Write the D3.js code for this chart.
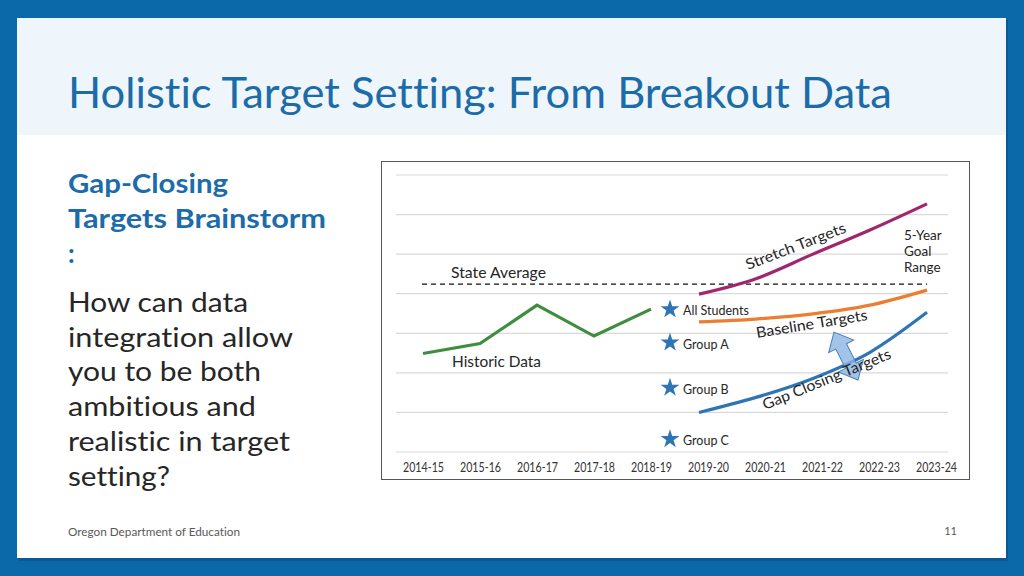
<!DOCTYPE html>
<html><head><meta charset="utf-8">
<script src="https://cdn.jsdelivr.net/npm/d3@7"></script>
<style>html,body{margin:0;padding:0;background:#0B69A9;}svg{display:block;}text{font-family:Lato,"Open Sans",sans-serif;font-variant-ligatures:none;font-feature-settings:"liga" 0;}</style>
</head><body>
<svg id="c" width="1024" height="576"></svg>
<script>
// ---- data ----
const years = ["2014-15","2015-16","2016-17","2017-18","2018-19","2019-20","2020-21","2021-22","2022-23","2023-24"];
const historicYears = ["2014-15","2015-16","2016-17","2017-18","2018-19"];
const historicValues = [2.49, 2.74, 3.71, 2.93, 3.61];
const targetYears = ["2019-20","2020-21","2021-22","2022-23","2023-24"];
const stretchValues = [3.99, 4.38, 5.00, 5.61, 6.27];
const baselineValues = [3.29, 3.36, 3.49, 3.71, 4.09];
const gapClosingValues = [1.00, 1.38, 1.86, 2.52, 3.53];
const stateAverage = 4.24;
const groups = ["All Students","Group A","Group B","Group C"];
const groupValues = [3.63, 2.79, 1.65, 0.35];
const gridValues = [0,1,2,3,4,5,6,7];
const bodyLines = ["How can data","integration allow","you to be both","ambitious and","realistic in target","setting?"];

const svg = d3.select("#c");
function fit(sel, w){ sel.attr("textLength", w).attr("lengthAdjust","spacingAndGlyphs"); return sel; }

// slide
svg.append("rect").attr("x",0).attr("y",0).attr("width",1024).attr("height",576).attr("fill","#0B69A9");
svg.append("rect").attr("x",19).attr("y",20).attr("width",989).attr("height",541).attr("fill","#0A4F80").attr("opacity",0.55);
svg.append("rect").attr("x",17).attr("y",18).attr("width",989).attr("height",540).attr("fill","#FFFFFF");
svg.append("rect").attr("x",17).attr("y",18).attr("width",989).attr("height",117).attr("fill","#EEF6FC");

fit(svg.append("text").attr("x",68).attr("y",108).attr("font-size",43).attr("fill","#1B6CA8")
  .text("Holistic Target Setting: From Breakout Data"), 824);

// left text
const heads = [["Gap-Closing",193,160],["Targets Brainstorm",228,258],[":",263,null]];
heads.forEach(h=>{ const t=svg.append("text").attr("x",68).attr("y",h[1]).attr("font-size",26).attr("font-weight","bold").attr("fill","#1B6CA8").text(h[0]); if(h[2]) fit(t,h[2]); });
const bodyW=[180,225,193,188,222,102];
bodyLines.forEach((s,i)=>{ fit(svg.append("text").attr("x",68).attr("y",312+i*34.7).attr("font-size",27).attr("fill","#262626").text(s), bodyW[i]); });

// footer
fit(svg.append("text").attr("x",68).attr("y",536).attr("font-size",11).attr("fill","#595959").text("Oregon Department of Education"),172);
svg.append("text").attr("x",957).attr("y",535).attr("text-anchor","end").attr("font-size",11).attr("fill","#595959").text("11");

// chart
svg.append("rect").attr("x",381.5).attr("y",161.5).attr("width",588).attr("height",318).attr("fill","#fff").attr("stroke","#555").attr("stroke-width",1);

const x = d3.scalePoint().domain(years).range([423,936]);
const y = d3.scaleLinear().domain([0,7]).range([452,175]);

// gridlines
const g = svg.append("g");
g.selectAll("line.grid").data(gridValues).join("line").attr("class","grid")
 .attr("x1",396).attr("x2",948).attr("y1",d=>y(d)).attr("y2",d=>y(d))
 .attr("stroke","#D9D9D9").attr("stroke-width",1.2);

// x axis labels
const xa = svg.append("g").attr("transform","translate(0,472)")
  .call(d3.axisBottom(x).tickSize(0).tickPadding(0));
xa.select(".domain").remove();
xa.selectAll("text").attr("font-size",13.5).attr("fill","#333").attr("dy",0)
  .style("font-family","Lato, 'Open Sans', sans-serif").attr("textLength",41).attr("lengthAdjust","spacingAndGlyphs");

// state average
svg.append("line").attr("x1",422).attr("x2",927).attr("y1",y(stateAverage)).attr("y2",y(stateAverage))
  .attr("stroke","#111").attr("stroke-width",1.2).attr("stroke-dasharray","5,4");
fit(svg.append("text").attr("x",451).attr("y",278).attr("font-size",15).attr("fill","#262626").text("State Average"),95);

// historic
const line = d3.line().x(d=>x(d[0])).y(d=>y(d[1]));
svg.append("path").datum(historicYears.map((d,i)=>[d,historicValues[i]]))
  .attr("d",line).attr("fill","none").attr("stroke","#3F8E3F").attr("stroke-width",3.2).attr("stroke-linejoin","miter");
fit(svg.append("text").attr("x",452).attr("y",367).attr("font-size",15).attr("fill","#262626").text("Historic Data"),89);

// target curves (shifted slightly left like the original)
const tg = svg.append("g").attr("transform","translate(-9,0)");
const curve = d3.line().x(d=>x(d[0])).y(d=>y(d[1])).curve(d3.curveMonotoneX);
[[stretchValues,"#A0276E"],[baselineValues,"#ED7D31"],[gapClosingValues,"#2E75B6"]].forEach(s=>{
  tg.append("path").datum(targetYears.map((d,i)=>[d,s[0][i]])).attr("d",curve)
    .attr("fill","none").attr("stroke",s[1]).attr("stroke-width",3.2).attr("stroke-linecap","butt");
});

// stars
const sx = x("2018-19")+19;
const star = d3.symbol(d3.symbolStar).size(110);
groups.forEach((gname,i)=>{
  svg.append("path").attr("d",star).attr("transform",`translate(${sx},${y(groupValues[i])+1})`).attr("fill","#2E75B6");
  svg.append("text").attr("x",sx+13).attr("y",y(groupValues[i])+7).attr("font-size",12.5).attr("fill","#262626").text(gname);
});

// arrow
(function(){
  const x0 = x("2021-22")+12, y0 = y(3.03), x1 = x("2021-22")+36, y1 = y(1.82);
  const L = Math.hypot(x1-x0,y1-y0), a = Math.atan2(y1-y0,x1-x0)*180/Math.PI;
  const h=16, hw=14, sw=6;
  const pts=[[0,0],[h,hw],[h,sw],[L-h,sw],[L-h,hw],[L,0],[L-h,-hw],[L-h,-sw],[h,-sw],[h,-hw]];
  svg.append("polygon").attr("points",pts.map(p=>p.join(",")).join(" "))
    .attr("transform",`translate(${x0},${y0}) rotate(${a})`)
    .attr("fill","#8DB4E2").attr("fill-opacity",0.8).attr("stroke","#4A7EBB").attr("stroke-width",1);
})();

// rotated labels
function rlabel(txt,x0,y0,x1,y1){
  const a=Math.atan2(y1-y0,x1-x0)*180/Math.PI, L=Math.hypot(x1-x0,y1-y0);
  fit(svg.append("text").attr("transform",`translate(${x0},${y0}) rotate(${a})`).attr("font-size",15).attr("fill","#262626").text(txt),L);
}
rlabel("Stretch Targets",748,270,847,232);
rlabel("Baseline Targets",757,338,868,320);
rlabel("Gap Closing Targets",765,410,892,358);

["5-Year","Goal","Range"].forEach((s,i)=>{
  svg.append("text").attr("x",904).attr("y",240+i*16).attr("font-size",13.5).attr("fill","#262626").text(s);
});
</script>
</body></html>
